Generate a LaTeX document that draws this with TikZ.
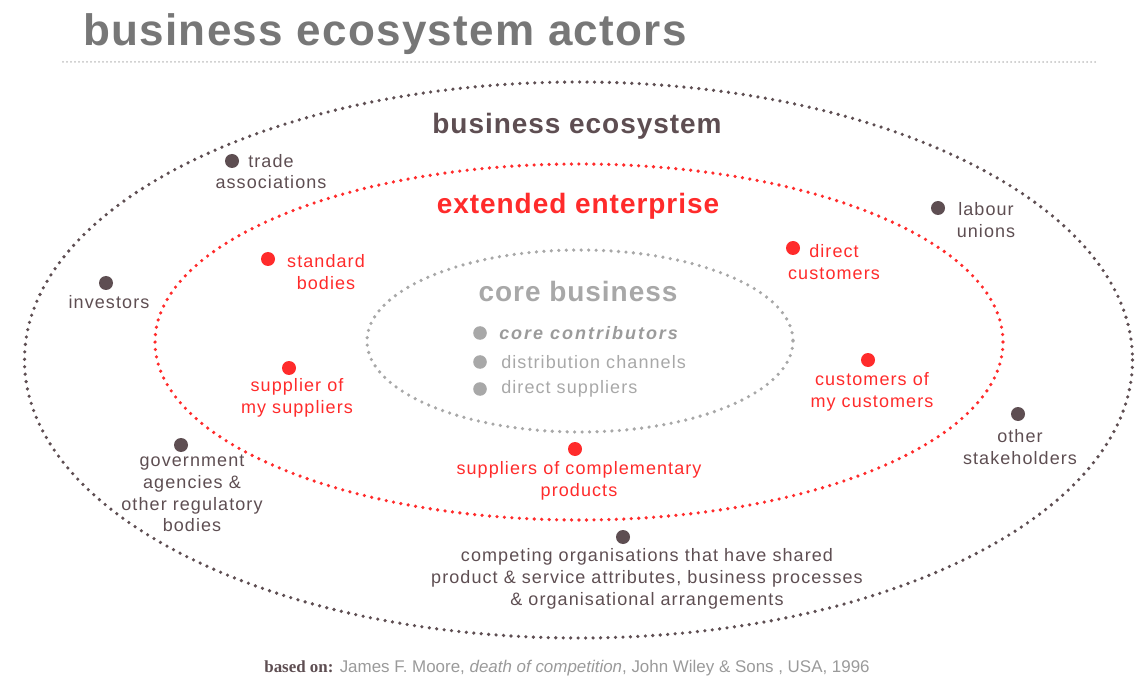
\documentclass[tikz,border=0pt]{standalone}
\usepackage{fontspec}
\setmainfont{Liberation Sans}
\newfontfamily\lbl[LetterSpace=6]{Liberation Sans}
\newfontfamily\lblw[LetterSpace=11]{Liberation Sans}
\newfontfamily\hdr[LetterSpace=3.4]{Liberation Sans}
\newfontfamily\ttl[LetterSpace=3]{Liberation Sans}
\newfontfamily\ser{Liberation Serif}
\definecolor{dk}{HTML}{5E4E52}
\definecolor{rd}{HTML}{FF2B2B}
\definecolor{gy}{HTML}{A8A8A8}
\definecolor{tt}{HTML}{777777}
\definecolor{ft}{HTML}{9A9A9A}
\tikzset{
  dotline/.style={line width=2.7pt, line cap=round, dash pattern=on 0pt off 5.6pt},
  ddot/.style={circle, fill=dk, inner sep=0pt, minimum size=10.5pt},
  rdot/.style={circle, fill=rd, inner sep=0pt, minimum size=10.5pt},
  gdot/.style={circle, fill=gy, inner sep=0pt, minimum size=10.2pt},
  dlbl/.style={text=dk, align=center, inner sep=0pt, font=\lbl\fontsize{13.5}{16.3}\selectfont},
  rlbl/.style={text=rd, align=center, inner sep=0pt, font=\lbl\fontsize{13.5}{16.3}\selectfont},
  glbl/.style={text=gy, anchor=west, inner sep=0pt, font=\lbl\fontsize{13.5}{16.3}\selectfont},
  head/.style={inner sep=0pt, font=\hdr\bfseries\fontsize{21}{25}\selectfont}
}
\begin{document}
\begin{tikzpicture}[x=0.75pt,y=-0.75pt]
\useasboundingbox (0,0) rectangle (1135,677);
% title
\node[text=tt, inner sep=0pt, font=\ttl\bfseries\fontsize{33}{38}\selectfont] (title) at (385,34) {business ecosystem actors};
\coordinate (tl1) at (63,62);
\coordinate (tl2) at (1095,62);
\draw[gy!70, line width=1.5pt, line cap=round, dash pattern=on 0pt off 3pt] (tl1) -- (tl2);
% ellipses
\draw[dk, dotline] (578.5,360) ellipse [x radius=554, y radius=278];
\draw[rd, dotline] (579,342) ellipse [x radius=424, y radius=178];
\draw[gy, dotline] (580,341) ellipse [x radius=213, y radius=91];
% headings
\node[head, text=dk] (be) at (577,126) {business ecosystem};
\node[head, text=rd] (ee) at (578,206) {extended enterprise};
\node[head, text=gy] (cb) at (578,291) {core business};
% core list
\node[gdot] (c1d) at (480,333) {};
\node[glbl, font=\lblw\itshape\bfseries\fontsize{13.5}{16.3}\selectfont, text=gy!92!black] (c1) at (499,333) {core contributors};
\node[gdot] (c2d) at (480,362) {};
\node[glbl] (c2) at (501,362) {distribution channels};
\node[gdot] (c3d) at (480,389) {};
\node[glbl] (c3) at (501,389) {direct suppliers};
% outer actors
\node[ddot] (tad) at (232,161) {};
\node[dlbl] (ta) at (271,171.5) {\hspace*{0pt}trade\\associations};
\node[ddot] (ind) at (106,283) {};
\node[dlbl] (in) at (109,302) {investors};
\node[ddot] (lud) at (938,208) {};
\node[dlbl] (lu) at (986,220) {labour\\unions};
\node[ddot] (osd) at (1018,414) {};
\node[dlbl] (os) at (1020,447) {other\\stakeholders};
\node[ddot] (god) at (181,445) {};
\node[dlbl] (go) at (192,493.5) {government\\agencies \&\\other regulatory\\bodies};
\node[ddot] (cod) at (623,537) {};
\node[dlbl] (co) at (647,579) {competing organisations that have shared\\product \& service attributes, business processes\\\& organisational arrangements};
% red actors
\node[rdot] (sbd) at (268,259) {};
\node[rlbl] (sb) at (326,272) {standard\\bodies};
\node[rdot] (dcd) at (793,248) {};
\node[rlbl] (dc) at (834,262) {direct\\customers};
\node[rdot] (ssd) at (289,368) {};
\node[rlbl] (ss) at (297,398) {supplier of\\my suppliers};
\node[rdot] (cmd) at (868,360) {};
\node[rlbl] (cm) at (872,392) {customers of\\my customers};
\node[rdot] (scd) at (575,449) {};
\node[rlbl] (sc) at (579,481) {suppliers of complementary\\products};
% footer
\node[inner sep=0pt, text=ft, font=\fontsize{12.7}{14}\selectfont] (foot) at (567,668)
  {{\ser\bfseries\color{dk}based on:} James F. Moore, \textit{death of competition}, John Wiley \& Sons , USA, 1996};
\end{tikzpicture}
\end{document}
